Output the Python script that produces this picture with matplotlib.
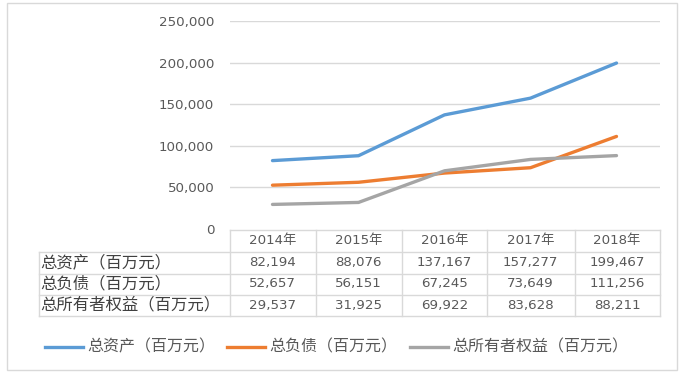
import matplotlib.pyplot as plt
from matplotlib.patches import Rectangle
from matplotlib.lines import Line2D

plt.rcParams['font.family'] = ['Noto Sans CJK SC', 'DejaVu Sans']

years = ['2014年', '2015年', '2016年', '2017年', '2018年']
series_names = ['总资产（百万元）', '总负债（百万元）', '总所有者权益（百万元）']
total_assets = [82194, 88076, 137167, 157277, 199467]
total_liabilities = [52657, 56151, 67245, 73649, 111256]
total_equity = [29537, 31925, 69922, 83628, 88211]
y_ticks = [0, 50000, 100000, 150000, 200000, 250000]

colors = ['#5B9BD5', '#ED7D31', '#A5A5A5']
grid_c = '#D9D9D9'
text_c = '#595959'
num_font = ['DejaVu Sans', 'Noto Sans CJK SC']

W, H = 684, 375


def fx(px):
    return px / W


def fy(py):
    return 1 - py / H


fig = plt.figure(figsize=(6.84, 3.75), dpi=100)

# outer frame
fig.patches.append(Rectangle((fx(7), fy(370)), fx(670), (370 - 3) / H,
                             transform=fig.transFigure, fill=False,
                             edgecolor=grid_c, linewidth=1))

col_edges = [229.5, 316, 401.5, 487, 574.5, 659.5]
ax = fig.add_axes([fx(col_edges[0]), fy(229), fx(col_edges[-1] - col_edges[0]), (229 - 21) / H])
ax.set_xlim(-0.5, len(years) - 0.5)
ax.set_ylim(0, 250000)
for v in y_ticks[1:]:
    ax.axhline(v, color=grid_c, linewidth=1, zorder=1)
all_series = [total_assets, total_liabilities, total_equity]
for vals, c in zip(all_series, colors):
    ax.plot(range(len(years)), vals, color=c, linewidth=2.4, solid_capstyle='round', zorder=3)
ax.set_yticks(y_ticks)
ax.set_yticklabels([f'{v:,}' for v in y_ticks], color=text_c, fontsize=9.6, family=num_font)
ax.tick_params(axis='y', length=0, pad=11)
ax.set_xticks([])
for s in ax.spines.values():
    s.set_visible(False)

# data table
row_edges = [229.5, 252, 273.5, 294.5, 315.5]
lab_left = 38.5
kw = dict(color=grid_c, linewidth=1, transform=fig.transFigure)
for i, ry in enumerate(row_edges):
    x0 = col_edges[0] if i == 0 else lab_left
    fig.add_artist(Line2D([fx(x0), fx(col_edges[-1])], [fy(ry), fy(ry)], **kw))
for cx in col_edges:
    fig.add_artist(Line2D([fx(cx), fx(cx)], [fy(row_edges[0]), fy(row_edges[-1])], **kw))
fig.add_artist(Line2D([fx(lab_left), fx(lab_left)], [fy(row_edges[1]), fy(row_edges[-1])], **kw))

for j, yr in enumerate(years):
    cx = (col_edges[j] + col_edges[j + 1]) / 2
    fig.text(fx(cx), fy((row_edges[0] + row_edges[1]) / 2), yr, ha='center', va='center',
             fontsize=9.6, color=text_c, family=num_font)
for i, (name, vals) in enumerate(zip(series_names, all_series)):
    cy = fy((row_edges[i + 1] + row_edges[i + 2]) / 2)
    fig.text(fx(lab_left + 2), cy, name, ha='left', va='center', fontsize=11.8, color='#404040')
    for j, v in enumerate(vals):
        cx = (col_edges[j] + col_edges[j + 1]) / 2
        fig.text(fx(cx), cy, f'{v:,}', ha='center', va='center', fontsize=9.6, color=text_c,
                 family=num_font)

# legend
leg_x = [45, 227, 410]
for lx, name, c in zip(leg_x, series_names, colors):
    fig.add_artist(Line2D([fx(lx), fx(lx + 38)], [fy(347), fy(347)], color=c,
                          linewidth=2.4, transform=fig.transFigure))
    fig.text(fx(lx + 42), fy(347), name, ha='left', va='center', fontsize=11.5, color=text_c)

fig.savefig('out.png', dpi=100)
